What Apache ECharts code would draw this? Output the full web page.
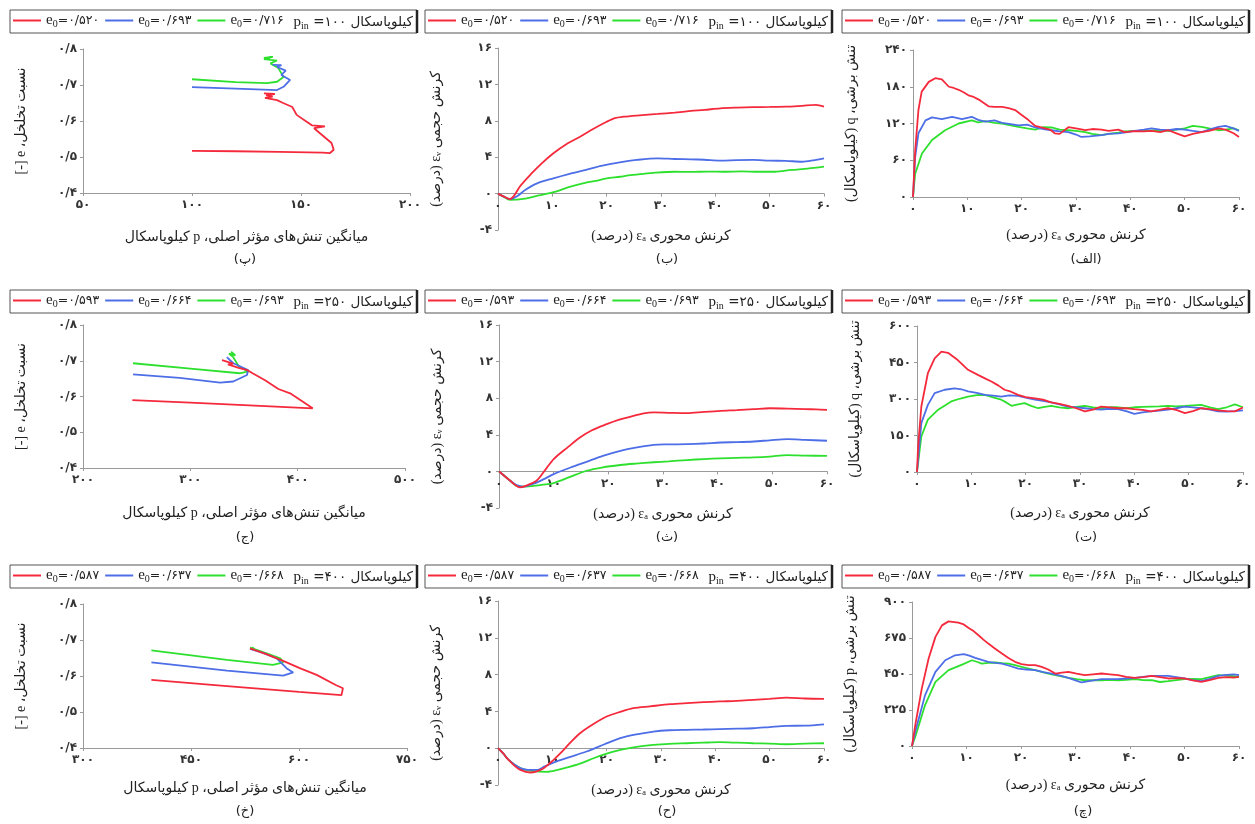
<!DOCTYPE html>
<html><head><meta charset="utf-8">
<script src="https://cdn.jsdelivr.net/npm/echarts@6/dist/echarts.min.js"></script>
<style>html,body{margin:0;padding:0;background:#fff;}#c{width:1255px;height:824px;}</style>
</head><body><div id="c"></div>
<script>
// ---------- data ----------
const pinValues = [100, 250, 400];
const e0Row1 = [0.520, 0.693, 0.716];
const e0Row2 = [0.593, 0.664, 0.693];
const e0Row3 = [0.587, 0.637, 0.668];

// void ratio e vs mean effective stress p  [p, e]
const e1Red = [[100,0.517],[120,0.516],[140,0.514],[160,0.512],[163.3,0.511],[165,0.52],[164,0.539],[158.7,0.566],[156,0.58],[161,0.585],[155,0.588],[152.6,0.598],[148,0.617],[146,0.639],[141.8,0.65],[139,0.658],[133.5,0.664],[137,0.668],[134,0.672],[138,0.675],[133,0.677]];
const e1Blue = [[100,0.694],[120,0.69],[139,0.686],[142,0.695],[145,0.714],[141,0.728],[143,0.74],[139,0.75],[141,0.755],[137,0.756]];
const e1Green = [[100,0.716],[120,0.708],[134.4,0.705],[139,0.709],[142,0.722],[139.6,0.747],[136,0.76],[139,0.768],[133,0.772],[137,0.778],[133,0.775],[136,0.77]];
const e2Red = [[246,0.59],[300,0.583],[350,0.576],[414,0.567],[393,0.609],[382,0.621],[370,0.645],[358,0.665],[353,0.674],[345,0.68],[335,0.69],[340,0.692],[329.6,0.702],[333,0.698]];
const e2Blue = [[246.6,0.662],[290,0.652],[327.7,0.639],[340,0.642],[352.8,0.66],[353.8,0.674],[340,0.693],[334,0.71]];
const e2Green = [[246.6,0.693],[300,0.678],[346,0.665],[354,0.67],[345,0.685],[340,0.71],[336,0.72],[342,0.715],[338,0.725]];
const e3Red = [[395,0.589],[500,0.572],[600,0.556],[659,0.547],[661,0.566],[651,0.575],[624.5,0.603],[601,0.622],[578,0.642],[555.5,0.66],[532,0.677]];
const e3Blue = [[395,0.638],[500,0.615],[578,0.601],[592,0.61],[583,0.621],[569,0.649],[550,0.664],[532,0.675]];
const e3Green = [[395,0.671],[500,0.645],[564,0.631],[578,0.638],[574,0.649],[555,0.663],[532,0.679],[540,0.672],[535,0.68]];

// volumetric strain ev vs axial strain ea  [ea, ev]
const ev1Red = [[0,0],[1,-0.3],[2.2,-0.6],[3,-0.2],[4,0.76],[6,2.1],[8,3.3],[10.2,4.43],[12.5,5.4],[15.1,6.25],[17.5,7.1],[20,7.9],[21.5,8.3],[23.1,8.45],[26,8.6],[29.4,8.75],[32.5,8.9],[35.5,9.08],[38,9.2],[40.9,9.37],[44,9.45],[47,9.5],[50,9.52],[53,9.55],[56,9.65],[58.5,9.74],[60,9.55]];
const ev1Blue = [[0,0],[1,-0.3],[2.2,-0.6],[3.5,-0.3],[5,0.4],[7.1,1.1],[10.2,1.68],[13,2.15],[16.2,2.6],[19,3.05],[22.4,3.44],[25.5,3.7],[29.4,3.88],[32.5,3.8],[35.5,3.77],[38,3.72],[40.9,3.63],[44,3.68],[47,3.7],[50,3.62],[53,3.6],[56,3.5],[58,3.65],[60,3.88]];
const ev1Green = [[0,0],[1,-0.35],[2.2,-0.7],[5,-0.55],[7.5,-0.2],[10.2,0.15],[13,0.7],[16.2,1.2],[18,1.4],[20,1.68],[22.5,1.85],[24,2.0],[26.3,2.15],[29,2.3],[32.5,2.4],[35.5,2.38],[38.6,2.42],[41.5,2.4],[44.8,2.45],[48,2.4],[51,2.4],[54,2.6],[57,2.75],[60,2.96]];
const ev2Red = [[0,0],[1,-0.5],[2,-1.0],[3,-1.5],[3.8,-1.75],[5,-1.55],[6.9,-1.0],[8.5,0.2],[10,1.35],[12.5,2.6],[14.8,3.7],[17,4.5],[19.7,5.16],[22,5.65],[24.6,6.07],[26.5,6.35],[28.3,6.44],[31,6.4],[34.4,6.36],[37.5,6.5],[40.5,6.62],[43.5,6.7],[46.6,6.8],[49.5,6.9],[52.7,6.87],[56,6.8],[58,6.78],[60,6.73]];
const ev2Blue = [[0,0],[1,-0.5],[2,-1.0],[3.2,-1.5],[4.5,-1.67],[6.5,-1.3],[8,-0.9],[10,-0.3],[13,0.4],[16,1.05],[19,1.7],[22.2,2.25],[25,2.6],[28.3,2.9],[31,2.95],[34.4,2.98],[37.5,3.05],[40.5,3.16],[43.5,3.2],[46.6,3.27],[49.5,3.4],[52.7,3.53],[56,3.45],[60,3.35]];
const ev2Green = [[0,0],[1,-0.5],[2,-1.0],[3,-1.5],[3.8,-1.67],[6,-1.6],[8,-1.45],[10,-1.27],[13,-0.6],[16,0.07],[19,0.45],[22.2,0.7],[25,0.85],[28.3,1.0],[31,1.1],[34.4,1.24],[37.5,1.35],[40.5,1.42],[43.5,1.48],[46.6,1.53],[49.5,1.62],[52.7,1.78],[56,1.72],[60,1.7]];
const ev3Red = [[0,0],[1,-0.6],[1.65,-1.09],[3,-1.9],[4.1,-2.36],[5.9,-2.64],[7,-2.55],[8.4,-2.17],[10,-1.4],[11.5,-0.54],[13.3,0.6],[15.1,1.63],[17.5,2.6],[20,3.44],[22.5,3.95],[24.9,4.35],[28,4.55],[31.7,4.78],[34.8,4.9],[37.8,5.0],[40.8,5.08],[43.9,5.14],[47,5.25],[50,5.36],[53.1,5.5],[56.5,5.4],[60,5.36]];
const ev3Blue = [[0,0],[1,-0.6],[2,-1.3],[4.1,-2.17],[5.5,-2.35],[7.2,-2.36],[8.5,-2.0],[10.2,-1.56],[13,-1.0],[16.3,-0.36],[19.5,0.4],[22.5,1.09],[25.5,1.5],[28.6,1.81],[31.5,1.95],[34.7,2.0],[37.8,2.03],[40.8,2.07],[44,2.12],[47,2.17],[50,2.3],[53.1,2.43],[56.5,2.45],[60,2.6]];
const ev3Green = [[0,0],[1,-0.6],[2,-1.3],[4.1,-2.17],[6,-2.45],[9,-2.57],[11,-2.35],[13.3,-2.0],[15.5,-1.6],[17.6,-1.09],[20,-0.6],[22.5,-0.18],[25.5,0.15],[28.6,0.36],[31.5,0.48],[34.7,0.54],[37.8,0.6],[40.8,0.65],[44,0.6],[47,0.54],[50,0.5],[53.1,0.43],[56.5,0.5],[60,0.54]];

// shear stress q vs axial strain ea  [ea, q]
const q1Red = [[0,0],[0.4,76],[1,142],[1.6,172],[2.9,188],[4.1,194],[5.3,192],[6.6,180],[7.5,178],[8.4,175],[9.3,171],[10.2,166],[11,164],[12.1,159],[13.9,148],[15,147],[16.4,147],[17.6,145],[18.8,142],[20,134],[21.2,126],[22.5,116],[24.3,112],[25.2,110],[26.1,104],[27,103],[28.6,114],[30,112],[31.7,109],[33,111],[34.7,110],[36,108],[37.8,110],[39,106],[40.8,107.5],[42.5,107],[43.9,108],[45.5,106],[47,109],[48.5,104],[50,99],[51.5,103],[53.1,106],[54.5,108],[56.2,112],[57.5,110],[59,104],[60,98]];
const q1Blue = [[0,0],[0.4,65],[1,104],[2.3,125],[3.5,130],[5.3,127],[7.2,131],[9,127],[10.8,131],[12,126],[13.3,123],[15,125],[16.4,121],[18,119],[19.4,117],[21,118],[22.5,113.5],[24,111],[25.5,109],[27,107],[28.6,106],[30,102],[31,98],[32.5,99],[34.7,101],[36,103],[37.8,104],[39.5,106],[40.8,108],[42.5,110],[43.9,112],[45.5,110],[47,109],[48.5,111],[50,110],[51.5,108],[53.1,106],[54.5,110],[56.2,114.5],[57.5,116],[59,112],[60,108]];
const q1Green = [[0,0],[0.4,38],[1.65,71],[3.5,93],[5.9,109],[8.4,120],[10.8,125],[12,122],[13.3,124],[15,121],[16.4,120],[18,117],[19.4,114.5],[21,112],[22.5,110],[24,114],[25.5,113.5],[27,110],[28.6,109],[30,108],[31.7,106],[33,103],[34.7,101],[36,103],[37.8,105],[39,107],[40.8,108],[43,108],[45,109],[47,108],[48.5,110],[50,112],[51.5,116],[53.1,114.5],[54.5,112],[56.2,109],[57.5,110],[59,112],[60,109]];
const q2Red = [[0,0],[0.2,105],[0.8,269],[2,406],[3.25,467],[4.5,495],[5.7,490],[7.5,460],[9.4,420],[11.2,399],[12.5,385],[13.7,372],[15,355],[16.1,338],[17.3,330],[18.6,317],[20,308],[21.7,303],[23.2,297],[24.7,286],[26.2,280],[27.8,272],[29.3,262],[30.9,249],[32.4,256],[33.9,269],[35.5,266],[37,262],[38.5,262],[40,258],[41.5,255],[43.1,249],[44.6,255],[46.2,262],[47.7,255],[49.3,242],[50.8,250],[52.3,262],[53.9,258],[55.4,253],[57,250],[58.5,249],[60,265]];
const q2Blue = [[0,0],[0.8,201],[2,276],[3.25,324],[5.1,338],[6.9,344],[8.2,340],[9.4,331],[11,325],[12.5,317],[14,314],[15.5,310],[17,315],[18.6,313],[20.2,305],[21.7,297],[23.2,292],[24.7,286],[26.2,278],[27.8,269],[29.3,266],[30.9,262],[32.4,258],[33.9,256],[35.5,260],[37,258],[38.5,250],[40,239],[41.5,245],[43.1,249],[44.6,252],[46.2,256],[47.7,262],[49.3,269],[50.8,266],[52.3,262],[53.9,256],[55.4,249],[57,248],[58.5,250],[60,253]];
const q2Green = [[0,0],[0.8,146],[2,215],[3.9,256],[6.3,290],[8,302],[9.4,310],[11,316],[12.5,317],[14,307],[15.5,297],[16.5,285],[17.4,272],[18.6,278],[19.8,283],[21,272],[22.3,262],[23.5,268],[24.7,272],[26.2,266],[27.8,262],[29.3,268],[30.9,272],[32.4,266],[33.9,262],[35.5,266],[37,266],[38.5,262],[40,266],[41.5,268],[43.1,269],[44.6,270],[46.2,272],[47.7,270],[49.3,272],[50.8,274],[52.3,276],[53.9,266],[55.4,258],[57,266],[58.5,278],[60,266]];
const q3Red = [[0,0],[0.6,131],[1.8,360],[3.05,547],[4.3,682],[5.5,754],[6.7,779],[8.5,771],[9.5,760],[10.4,738],[11.3,718],[12.2,692],[13.1,665],[14,640],[15.2,610],[16.5,578],[17.7,550],[18.9,526],[20.1,512],[21.4,505],[22.6,505],[23.8,495],[25,478],[26.3,453],[27.5,458],[28.7,463],[30.2,452],[31.7,443],[33.2,448],[34.8,453],[36.3,448],[37.8,443],[39.3,432],[40.9,426],[42.4,430],[44,438],[45.5,430],[47,422],[48.5,424],[50,422],[51.5,410],[53.1,401],[54.6,412],[56.2,426],[57.7,430],[59,428],[60,432]];
const q3Blue = [[0,0],[0.6,89],[2.4,318],[4.3,463],[6.1,536],[7.9,567],[9.5,574],[10.5,565],[11.6,551],[12.8,538],[14,526],[15.3,520],[16.5,515],[18,500],[19.5,484],[21,478],[22.6,474],[24.1,462],[25.6,453],[27.2,440],[28.7,426],[30,410],[31.1,397],[33,408],[34.8,418],[36.3,418],[37.8,418],[39.3,422],[40.9,426],[42.4,432],[44,438],[45.5,438],[47,438],[48.5,430],[50,422],[51.5,412],[53.1,405],[54.6,420],[56.2,438],[57.7,445],[59,448],[60,443]];
const q3Green = [[0,0],[0.6,58],[2.4,256],[4.3,401],[6.7,474],[9.2,509],[11,536],[12,525],[12.8,515],[14,520],[15.3,522],[16.5,518],[17.7,515],[18.9,505],[20.1,495],[21.4,484],[22.6,474],[24.1,460],[25.6,447],[27.2,436],[28.7,426],[30.2,418],[31.7,411],[33.2,411],[34.8,411],[36.3,413],[37.8,411],[39.3,414],[40.9,418],[42.4,412],[44,411],[45.5,400],[47,405],[48.5,412],[50,418],[51.5,420],[53.1,418],[54.6,430],[56.2,443],[57.7,440],[59,436],[60,432]];

// axis ranges / tick steps [min, max, interval]
const eXRange = [[50,200,50],[200,500,100],[300,750,150]];
const eYRange = [0.4,0.8,0.1];
const vXRange = [0,60,10];
const vYRange = [-4,16,4];
const qXRange = [0,60,10];
const qYRange = [[0,240,60],[0,600,150],[0,900,225]];
const qSymbol = ['q','q','p'];
const subLabels = [['(پ)','(ب)','(الف)'],['(ج)','(ث)','(ت)'],['(خ)','(ح)','(چ)']];

// ---------- helpers ----------
const FA = '۰۱۲۳۴۵۶۷۸۹';
function fa(s){ return String(s).replace(/[0-9]/g, d => FA[d]).replace('.', '/'); }
const RLE = '\u202B', PDF = '\u202C';
const rtl = s => RLE + s + PDF;
const COLORS = ['#f42a3c', '#4d6ee6', '#2ee02e'];
const FONT = "'Liberation Serif', 'DejaVu Sans', serif";
const LFONT = "'DejaVu Sans', sans-serif";

const rowsData = [
  {e0:e0Row1, e:[e1Red,e1Blue,e1Green], v:[ev1Red,ev1Blue,ev1Green], q:[q1Red,q1Blue,q1Green]},
  {e0:e0Row2, e:[e2Red,e2Blue,e2Green], v:[ev2Red,ev2Blue,ev2Green], q:[q2Red,q2Blue,q2Green]},
  {e0:e0Row3, e:[e3Red,e3Blue,e3Green], v:[ev3Red,ev3Blue,ev3Green], q:[q3Red,q3Blue,q3Green]}
];

// layout (pixels)
const gridPos = [
  [{left:83,top:49,width:327,height:144},{left:498,top:48,width:326,height:182},{left:913,top:50,width:326,height:147}],
  [{left:83,top:325,width:322,height:143},{left:499,top:325,width:328,height:183},{left:917,top:326,width:326,height:146}],
  [{left:83,top:604,width:324,height:144},{left:498,top:601,width:326,height:184},{left:912,top:602,width:327,height:144}]
];
const xNameGap = [[37,36,31],[38,36,34],[33,35,32]];
const subY = [260, 538, 812];
const subX = [[245,667,1086],[245,667,1086],[245,667,1083]];
const boxLeft = [10, 425, 842];
const boxTop = [10, 290, 565];
const boxW = 407, boxH = 23;

const option = {
  backgroundColor:'#fff', animation:false,
  grid:[], xAxis:[], yAxis:[], series:[], legend:[], graphic:[]
};

function baseAxis(){
  return {
    axisLine:{show:true, onZero:false, lineStyle:{color:'#9a9a9a', width:1}},
    axisTick:{show:true, length:3, lineStyle:{color:'#9a9a9a'}},
    splitLine:{show:false},
    axisLabel:{fontFamily:LFONT, fontSize:12, fontWeight:'bold', color:'#333', margin:6},
    nameLocation:'middle',
    nameTextStyle:{fontFamily:FONT, fontSize:14, color:'#222'}
  };
}

const labelMap = {};
rowsData.forEach((rd, r) => {
  for (let c = 0; c < 3; c++) {
    const idx = r*3 + c;
    const g = gridPos[r][c];
    option.grid.push(Object.assign({}, g));
    const xa = baseAxis(), ya = baseAxis();
    xa.gridIndex = idx; ya.gridIndex = idx; xa.type = 'value'; ya.type = 'value';
    ya.nameGap = 55;
    let sets;
    if (c === 0) {
      [xa.min, xa.max, xa.interval] = eXRange[r];
      [ya.min, ya.max, ya.interval] = eYRange;
      xa.axisLabel.formatter = v => fa(v);
      ya.axisLabel.formatter = v => fa(Number(v).toFixed(1));
      xa.name = rtl('میانگین تنش‌های مؤثر اصلی، p کیلوپاسکال');
      ya.name = rtl('نسبت تخلخل، e [-]');
      sets = rd.e;
    } else if (c === 1) {
      [xa.min, xa.max, xa.interval] = vXRange;
      [ya.min, ya.max, ya.interval] = vYRange;
      // x axis sits on the zero line: shift it up from the grid bottom
      xa.offset = -g.height * (0 - vYRange[0]) / (vYRange[1] - vYRange[0]);
      xa.axisLabel.formatter = v => fa(v);
      ya.axisLabel.formatter = v => fa(v);
      xa.name = rtl('کرنش محوری εₐ (درصد)');
      ya.name = rtl('کرنش حجمی εᵥ (درصد)');
      sets = rd.v;
    } else {
      [xa.min, xa.max, xa.interval] = qXRange;
      [ya.min, ya.max, ya.interval] = qYRange[r];
      xa.axisLabel.formatter = v => fa(v);
      ya.axisLabel.formatter = v => fa(v);
      xa.name = rtl('کرنش محوری εₐ (درصد)');
      ya.name = rtl('تنش برشی، ' + qSymbol[r] + ' (کیلوپاسکال)');
      sets = rd.q;
    }
    xa.nameGap = xNameGap[r][c];
    option.xAxis.push(xa); option.yAxis.push(ya);

    const names = [];
    sets.forEach((d, k) => {
      const nm = 's' + idx + '_' + k;
      names.push(nm);
      labelMap[nm] = fa(rd.e0[k].toFixed(3));
      option.series.push({
        name:nm, type:'line', xAxisIndex:idx, yAxisIndex:idx, data:d,
        showSymbol:false, symbol:'none', smooth: c === 1 ? 0.3 : false,
        lineStyle:{color:COLORS[k], width:1.8}, itemStyle:{color:COLORS[k]}, z: 3 - k
      });
    });

    const bl = boxLeft[c], bt = boxTop[r];
    option.legend.push({
      left: bl + 3, top: bt + 3, orient:'horizontal', padding:0,
      itemGap:6, itemWidth:28, itemHeight:2, icon:'rect',
      data:names, selectedMode:false,
      formatter: n => '{e|e}{s|0}{t|=' + labelMap[n] + '}',
      textStyle:{width:62, color:'#222', fontSize:13, fontFamily:FONT,
        rich:{
          e:{fontFamily:FONT, fontSize:15, color:'#222', lineHeight:17},
          s:{fontFamily:FONT, fontSize:10, color:'#222', verticalAlign:'bottom'},
          t:{fontFamily:LFONT, fontSize:12.5, color:'#222'}
        }}
    });
    option.graphic.push({type:'rect', shape:{x:bl, y:bt, width:boxW, height:boxH}, style:{fill:'none', stroke:'#555', lineWidth:1}, silent:true});
    option.graphic.push({type:'line', shape:{x1:bl+boxW, y1:bt, x2:bl+boxW, y2:bt+boxH}, style:{stroke:'#222', lineWidth:2.5}, silent:true});
    option.graphic.push({type:'text', x: bl + boxW - 4, y: bt + boxH/2 + 1, silent:true,
      style:{text:'{i|p}{s|in}{t| =' + fa(pinValues[r]) + ' کیلوپاسکال}', align:'right', verticalAlign:'middle', textAlign:'right', textVerticalAlign:'middle',
        rich:{
          i:{fontFamily:FONT, fontSize:15, fill:'#222', color:'#222', lineHeight:17},
          s:{fontFamily:FONT, fontSize:10, fill:'#222', color:'#222', verticalAlign:'bottom'},
          t:{fontFamily:LFONT, fontSize:13.5, fill:'#222', color:'#222'}
        }}});
    option.graphic.push({type:'text', x: subX[r][c], y: subY[r], silent:true,
      style:{text: subLabels[r][c], font:"13px 'DejaVu Sans'", fill:'#222', align:'center', verticalAlign:'middle', textAlign:'center', textVerticalAlign:'middle'}});
  }
});

const chart = echarts.init(document.getElementById('c'), null, {renderer:'canvas'});
chart.setOption(option);
</script></body></html>
